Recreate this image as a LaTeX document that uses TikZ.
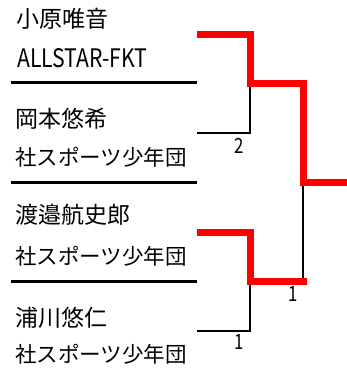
\documentclass[tikz,border=0pt]{standalone}
\usepackage{fontspec}
\setmainfont{Noto Sans CJK JP}
\usepackage{graphicx}
\begin{document}
\begin{tikzpicture}[x=1pt,y=-1pt,
  namestyle/.style={anchor=west,inner sep=0pt,font=\fontsize{23}{23}\selectfont},
  teamstyle/.style={anchor=west,inner sep=0pt,font=\fontsize{21.5}{21.5}\selectfont},
  scorestyle/.style={inner sep=0pt,font=\fontsize{21}{21}\selectfont,xscale=0.8},
  sepline/.style={line width=3pt},
  loseline/.style={line width=2.2pt},
  winline/.style={line width=7pt,red,line join=miter}]
\useasboundingbox (0,0) rectangle (347,378);
% texts
\node[namestyle] (n1) at (16,19) {小原唯音};
\node[anchor=west,inner sep=0pt] (t1) at (17,58) {\resizebox{130pt}{19pt}{ALLSTAR-FKT}};
\node[namestyle] (n2) at (15,119) {岡本悠希};
\node[teamstyle] (t2) at (15,157) {社スポーツ少年団};
\node[namestyle] (n3) at (15,215) {渡邉航史郎};
\node[teamstyle] (t3) at (15,256) {社スポーツ少年団};
\node[namestyle] (n4) at (15,318) {浦川悠仁};
\node[teamstyle] (t4) at (15,354) {社スポーツ少年団};
% separators
\coordinate (s1a) at (11,82.7); \coordinate (s1b) at (197,82.7);
\coordinate (s2a) at (11,182); \coordinate (s2b) at (197,182);
\coordinate (s3a) at (11,281); \coordinate (s3b) at (197,281);
\draw[sepline] (s1a) -- (s1b);
\draw[sepline] (s2a) -- (s2b);
\draw[sepline] (s3a) -- (s3b);
% bracket coordinates
\coordinate (e1) at (197,34.5);
\coordinate (e2) at (197,133);
\coordinate (e3) at (197,232);
\coordinate (e4) at (197,331);
\coordinate (m1) at (250,83.5);
\coordinate (m2) at (250,281);
\coordinate (f) at (303,182);
\coordinate (w) at (347,182);
% losing lines
\draw[loseline] (e2) -| (m1);
\draw[loseline] (e4) -| (m2);
\draw[loseline] (f) |- (m2);
% winning lines
\draw[winline] (e1) -| (m1) -| (f) -- (w);
\draw[winline] (e3) -| (m2) -- ([xshift=3.5pt]m2 -| f);
% scores
\node[scorestyle] (sc1) at (239,146) {2};
\node[scorestyle] (sc2) at (239,342.5) {1};
\node[scorestyle] (sc3) at (293,294.5) {1};
\end{tikzpicture}
\end{document}
